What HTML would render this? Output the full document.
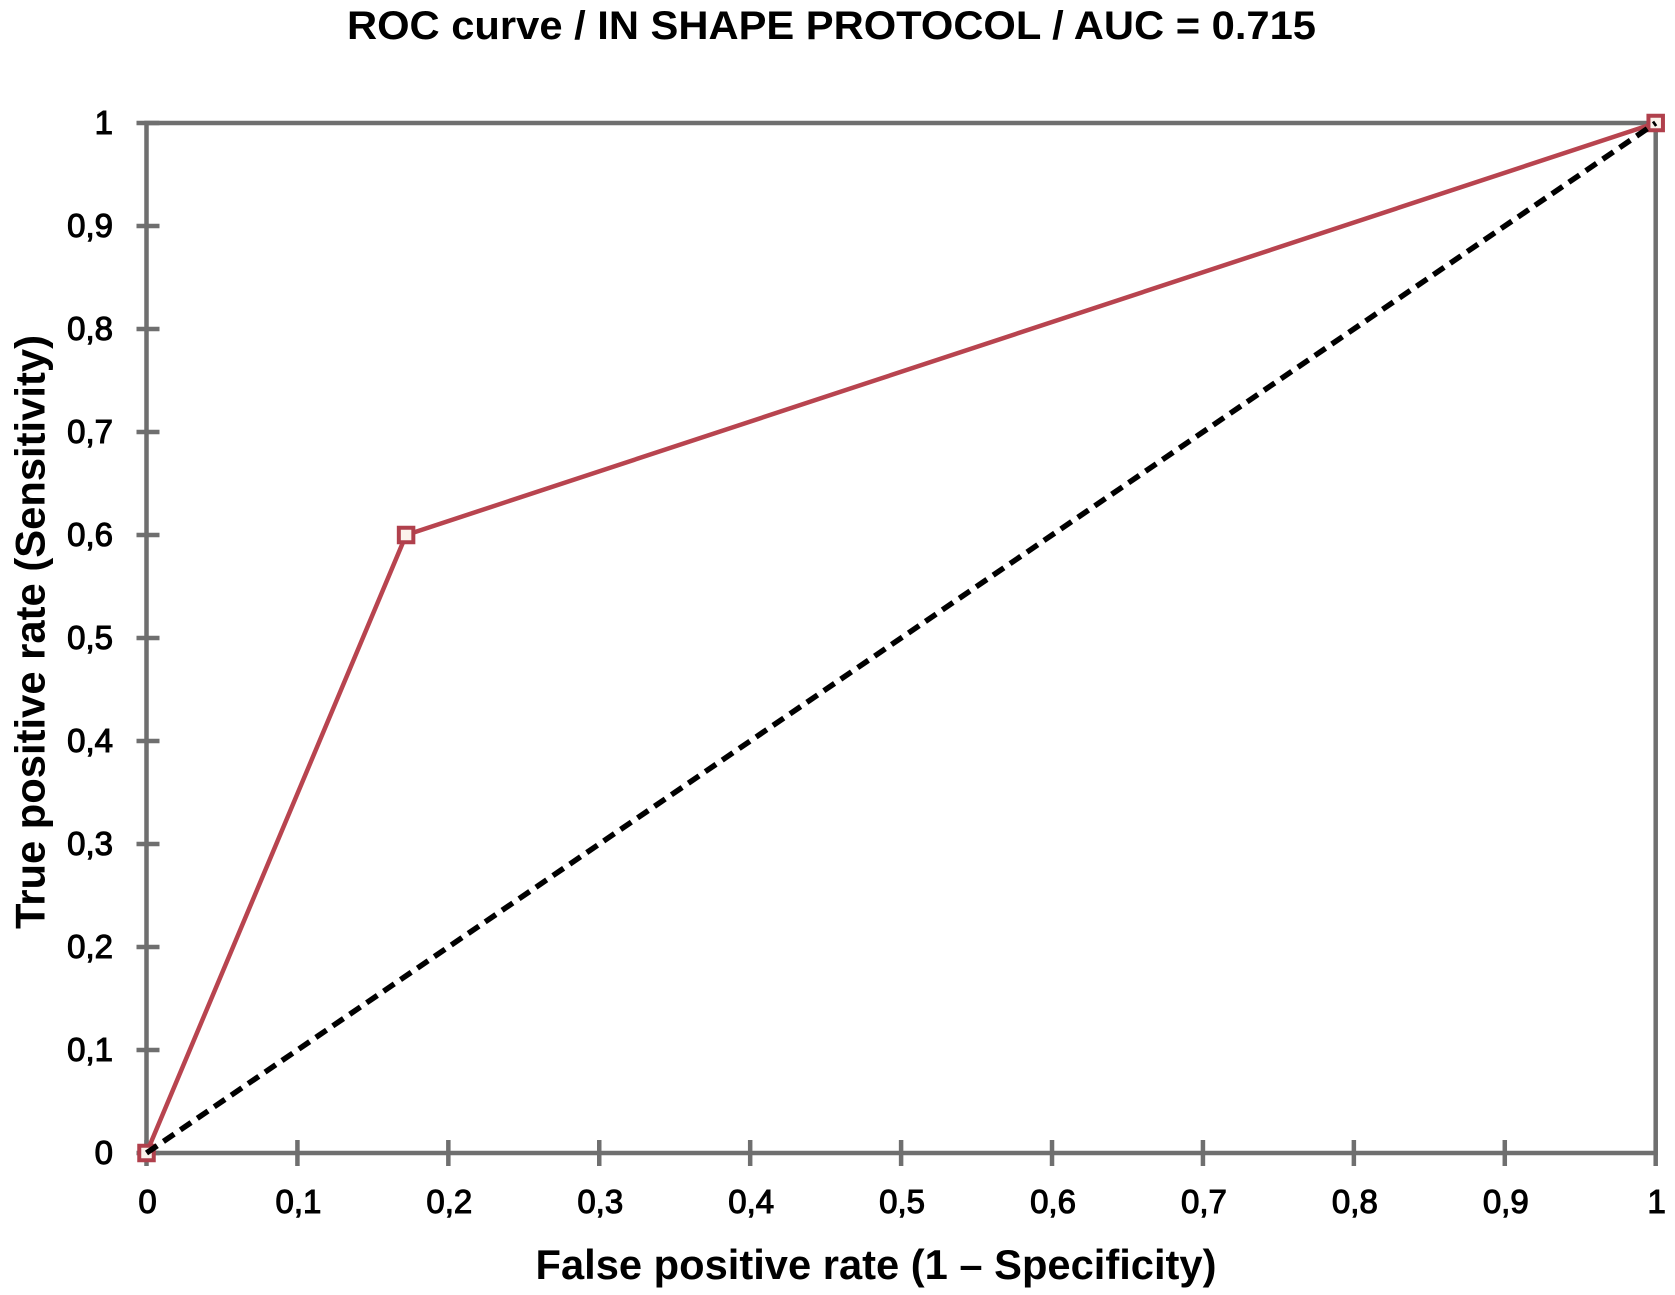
<!DOCTYPE html>
<html lang="en">
<head>
<meta charset="utf-8">
<title>ROC curve / IN SHAPE PROTOCOL</title>
<style>
  html, body { margin: 0; padding: 0; background: #fff; }
  body { width: 1675px; height: 1295px; overflow: hidden; }
  svg { display: block; }
  text { fill: #000; }
  .title-text { font: bold 40px "Liberation Sans", sans-serif; }
  .axis-title-text { font: bold 42px "Liberation Sans", sans-serif; }
  .tick-text { font: 33px "Liberation Sans", sans-serif; stroke: #000; stroke-width: 1.1px; }
</style>
</head>
<body>
<svg id="chart" xmlns="http://www.w3.org/2000/svg" width="1675" height="1295" viewBox="0 0 1675 1295">
  <rect width="1675" height="1295" fill="#fff"/>
  <text class="title-text" x="831.5" y="39" text-anchor="middle" textLength="969" lengthAdjust="spacingAndGlyphs">ROC curve / IN SHAPE PROTOCOL / AUC = 0.715</text>
  <text class="axis-title-text" x="876" y="1279" text-anchor="middle" textLength="681" lengthAdjust="spacingAndGlyphs">False positive rate (1 – Specificity)</text>
  <text class="axis-title-text" transform="translate(44.5 632) rotate(-90)" x="0" y="0" text-anchor="middle" textLength="594" lengthAdjust="spacingAndGlyphs">True positive rate (Sensitivity)</text>
  <g id="axes"></g>
  <g id="series"></g>
</svg>
<script>
const xTickValues = [0, 0.1, 0.2, 0.3, 0.4, 0.5, 0.6, 0.7, 0.8, 0.9, 1];
const yTickValues = [0, 0.1, 0.2, 0.3, 0.4, 0.5, 0.6, 0.7, 0.8, 0.9, 1];
const tickLabels = ['0', '0,1', '0,2', '0,3', '0,4', '0,5', '0,6', '0,7', '0,8', '0,9', '1'];
const rocFpr = [0, 0.172, 1];
const rocTpr = [0, 0.6, 1];
const chanceFpr = [0, 1];
const chanceTpr = [0, 1];

const NS = 'http://www.w3.org/2000/svg';
const LEFT = 146.5, RIGHT = 1655.7, TOP = 123, BOTTOM = 1153;
const xScale = v => LEFT + v * (RIGHT - LEFT);
const yScale = v => BOTTOM - v * (BOTTOM - TOP);
const axes = document.getElementById('axes');
const series = document.getElementById('series');

function make(parent, tag, attrs, text) {
  const el = document.createElementNS(NS, tag);
  for (const k in attrs) el.setAttribute(k, attrs[k]);
  if (text !== undefined) el.textContent = text;
  parent.appendChild(el);
  return el;
}

const axisColor = '#6f6f6f';
const axisStyle = { stroke: axisColor, 'stroke-width': 4.5, fill: 'none' };

const frame = make(axes, 'path', Object.assign({
  d: `M${xScale(0)} ${yScale(0)}H${xScale(1)}V${yScale(1)}H${xScale(0)}Z`
}, axisStyle));



xTickValues.forEach((v, i) => {
  const x = xScale(v);
  const tick = make(axes, 'line', Object.assign({
    x1: x, x2: x, y1: yScale(0) - 13, y2: yScale(0) + 13
  }, axisStyle));
  
  
  const label = make(axes, 'text', {
    class: 'tick-text', x: x + 1, y: 1213, 'text-anchor': 'middle'
  }, tickLabels[i]);
  
  
});

yTickValues.forEach((v, i) => {
  const y = yScale(v);
  const tick = make(axes, 'line', Object.assign({
    x1: xScale(0) - 10, x2: xScale(0) + 13, y1: y, y2: y
  }, axisStyle));
  
  
  const label = make(axes, 'text', {
    class: 'tick-text', x: 113, y: y + 11, 'text-anchor': 'end'
  }, tickLabels[i]);
  
  
});

const rocPoints = rocFpr.map((v, i) => `${xScale(v)},${yScale(rocTpr[i])}`).join(' ');
const rocLine = make(series, 'polyline', {
  points: rocPoints, fill: 'none', stroke: '#b8444f', 'stroke-width': 4.5, 'stroke-linejoin': 'round'
});



rocFpr.forEach((v, i) => {
  const size = 14.5;
  const marker = make(series, 'rect', {
    x: xScale(v) - size / 2, y: yScale(rocTpr[i]) - size / 2,
    width: size, height: size, fill: '#fbf3ec', stroke: '#b0404c', 'stroke-width': 4
  });
  
  
});

const chancePoints = chanceFpr.map((v, i) => `${xScale(v)},${yScale(chanceTpr[i])}`).join(' ');
const chanceLine = make(series, 'polyline', {
  points: chancePoints, fill: 'none', stroke: '#000', 'stroke-width': 5.5, 'stroke-dasharray': '13 7.5'
});


</script>
</body>
</html>
